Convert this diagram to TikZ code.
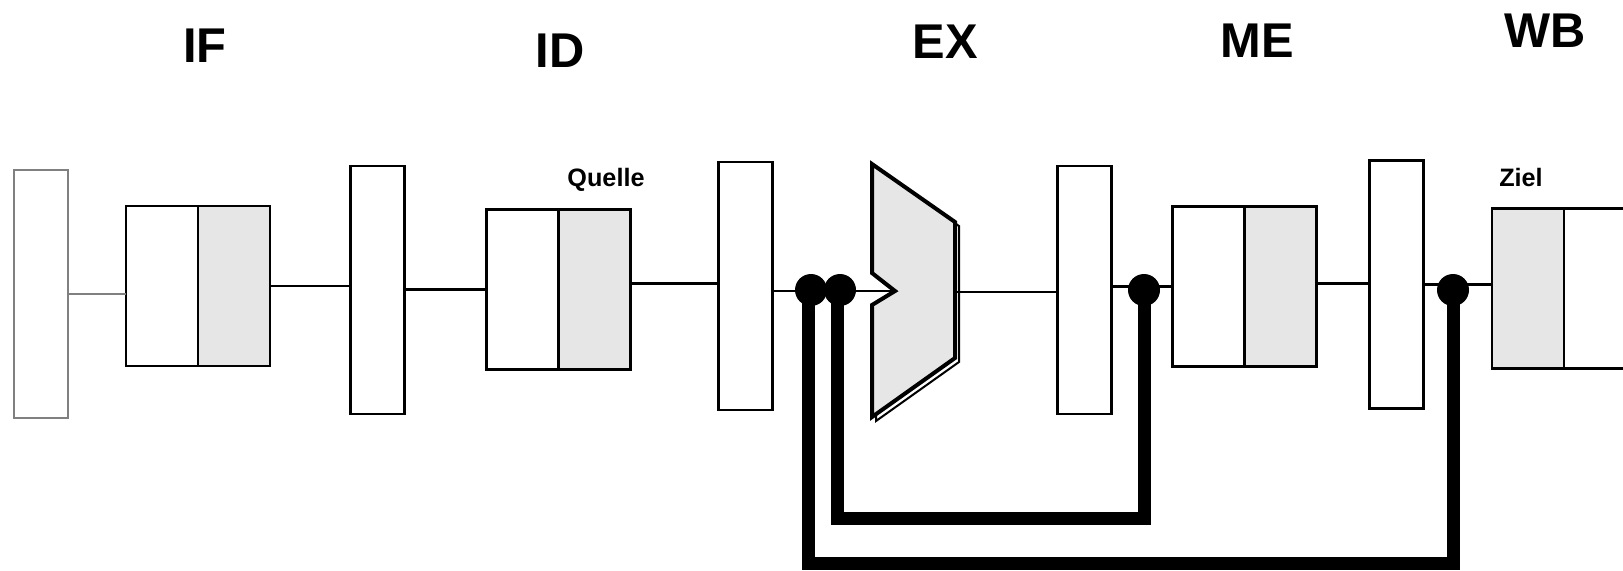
\documentclass[tikz,border=0pt]{standalone}
\usepackage{fontspec}
\setmainfont{Liberation Sans}
\usetikzlibrary{positioning}
\definecolor{shade}{HTML}{E6E6E6}
\definecolor{pcgray}{HTML}{808080}

\begin{document}
\begin{tikzpicture}[x=0.5pt,y=-0.5pt,line width=1.3pt,
        reg/.style={draw, rectangle, inner sep=0pt, outer sep=0pt, minimum width=27pt, minimum height=124pt},
        half/.style={draw, rectangle, inner sep=0pt, outer sep=0pt, minimum width=36pt, minimum height=80pt},
        stage/.style={font=\fontsize{24.4}{29}\selectfont\bfseries, inner sep=0pt},
        tag/.style={font=\fontsize{12.6}{15}\selectfont\bfseries, inner sep=0pt},
        dot/.style={circle, fill, inner sep=0pt, minimum size=16pt},
        fwd/.style={line width=6.5pt}]
        \clip (0,0) rectangle (1623,570);
        \fill[white] (0,0) rectangle (1623,570);

        % stage names
        \node (if) [stage] at (205,46) {IF};
        \node (id) [stage] at (560,51) {ID};
        \node (ex) [stage] at (945,42) {EX};
        \node (me) [stage] at (1257,41) {ME};
        \node (wb) [stage] at (1545,31) {WB};

        % pipeline registers
        \node (pc) [reg, draw=pcgray] at (41,294) {};
        \node (reg1) [reg] at (377.5,290) {};
        \node (reg2) [reg] at (745.5,286) {};
        \node (reg3) [reg] at (1084.5,290) {};
        \node (reg4) [reg] at (1396.5,284.5) {};

        % memories and register file
        \node (imemL) [half] at (162,286) {};
        \node (imemR) [half, fill=shade, right=0pt of imemL] {};
        \node (idL) [half] at (522.5,289.5) {};
        \node (idR) [half, fill=shade, right=0pt of idL] {};
        \node (meL) [half] at (1208.5,286.5) {};
        \node (meR) [half, fill=shade, right=0pt of meL] {};
        \node (wbL) [half, fill=shade] at (1528,288.5) {};
        \node (wbR) [half, right=0pt of wbL] {};

        \node (quelle) [tag] at (606,180) {Quelle};
        \node (ziel) [tag] at (1521,177) {Ziel};

        % ALU
        \coordinate (aluin) at (895,291);
        \coordinate (aluout) at (955,292);
        \draw[line width=1pt, shift={(4,4)}] (872,164) -- (955,222) -- (955,358) -- (872,417)
            -- (872,305) -- (895,291) -- (872,273) -- cycle;
        \draw[fill=shade, line width=2pt] (872,164) -- (955,222) -- (955,358) -- (872,417)
            -- (872,305) -- (aluin) -- (872,273) -- cycle;

        \draw[pcgray] (pc.east) -- (pc.east -| imemL.west);
        \draw (imemR.east) -- (imemR.east -| reg1.west);
        \draw (reg1.east |- idL.west) -- (idL.west);
        \draw ([yshift=3pt]idR.east) -- ([yshift=3pt]idR.east -| reg2.west);
        \draw (reg2.east |- aluin) -- (aluin);
        \draw (aluout) -- (aluout -| reg3.west);
        \draw (reg3.east |- meL.west) -- (meL.west);
        \draw ([yshift=1.5pt]meR.east) -- ([yshift=1.5pt]meR.east -| reg4.west);
        \draw (reg4.east) -- (reg4.east -| wbL.west);

        % forwarding paths
        \node (fwd1) [dot] at (811,290) {};
        \node (fwd2) [dot] at (840,290) {};
        \node (fwd3) [dot] at (1144,290) {};
        \node (fwd4) [dot] at (1453,290) {};
        \draw[fwd] ([xshift=-1.5pt]fwd1.center) -- ++(0,273) -| (fwd4.center);
        \draw[fwd] ([xshift=-1.5pt]fwd2.center) -- ++(0,228) -| (fwd3.center);
    \end{tikzpicture}
\end{document}
